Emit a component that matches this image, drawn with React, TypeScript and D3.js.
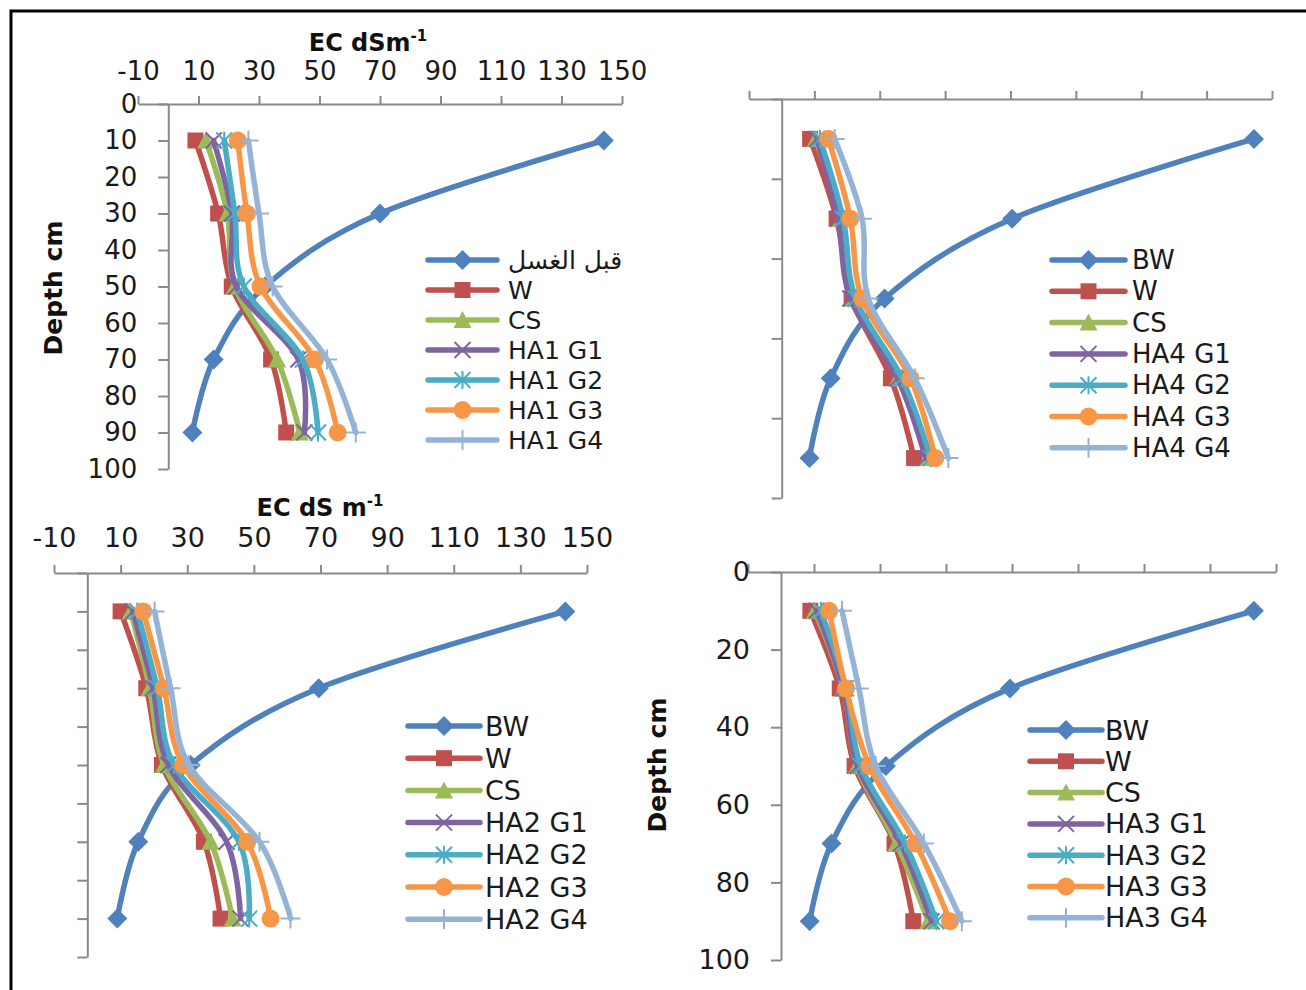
import { useEffect, useRef } from "react";
import * as d3 from "d3";

// depth of each sampling point (cm)
const depths = [10, 30, 50, 70, 90];
const ecTicks = [-10, 10, 30, 50, 70, 90, 110, 130, 150];

// EC values (dS/m) per depth; rows: BW, W, CS, G1, G2, G3, G4
const ha1Values = [
  [144, 70, 32, 15, 8],
  [9, 16.5, 21, 34, 39],
  [12.5, 19.5, 22, 36, 43.5],
  [15, 21, 22.5, 43, 45],
  [18.5, 22, 25, 44.5, 49.5],
  [23, 26, 30.5, 48.5, 56],
  [26.5, 30, 34.5, 52.5, 62],
];
const ha4Values = [
  [144.5, 70.5, 31.5, 15, 8.5],
  [8.7, 16.8, 21.4, 33.4, 40.5],
  [10.4, 18, 22, 35.5, 44.6],
  [10.8, 17.2, 21, 35.5, 44],
  [11.7, 18.8, 22.6, 36.8, 45.6],
  [14.3, 21, 24.6, 39.4, 47],
  [16.2, 24.6, 26.5, 40.7, 51],
];
const ha2Values = [
  [143.5, 69.5, 31, 15.3, 9],
  [10, 17.7, 22.4, 35, 40],
  [13, 18.7, 23, 37, 43.6],
  [13.7, 19.7, 24.3, 41.8, 46],
  [15, 21, 26, 45.5, 48.6],
  [16.8, 23, 28.7, 48, 55],
  [20.2, 25, 30.5, 51.7, 61],
];
const ha3Values = [
  [143.3, 69.4, 31.8, 15.3, 8.7],
  [8.9, 17.8, 22.3, 34.4, 40.1],
  [10.2, 18.9, 23, 35, 44.6],
  [10.8, 19, 23.2, 36.3, 45.6],
  [12.1, 19.7, 24.2, 37.6, 47.1],
  [14.6, 19.7, 26.8, 40.8, 51.2],
  [18.5, 23.6, 28.7, 43.3, 54.8],
];

const ha1Labels = ["قبل الغسل", "W", "CS", "HA1 G1", "HA1 G2", "HA1 G3", "HA1 G4"];
const ha4Labels = ["BW", "W", "CS", "HA4 G1", "HA4 G2", "HA4 G3", "HA4 G4"];
const ha2Labels = ["BW", "W", "CS", "HA2 G1", "HA2 G2", "HA2 G3", "HA2 G4"];
const ha3Labels = ["BW", "W", "CS", "HA3 G1", "HA3 G2", "HA3 G3", "HA3 G4"];

const colors = ["#4F81BD", "#C0504D", "#9BBB59", "#8064A2", "#4BACC6", "#F79646", "#95B3D7"];
const markerTypes = ["diamond", "square", "triangle", "x", "star", "circle", "plus"];

const FONT = "'DejaVu Sans', sans-serif";
const AXIS = "#8a8a8a";

interface Panel {
  values: number[][];
  labels: string[];
  xRange: [number, number];
  yRange: [number, number];
  yStep: number;
  xTickLabels: boolean;
  yTickLabels: boolean;
  xPad: number;
  tickFont: number;
  title?: { text: string; x: number; y: number };
  yTitle?: { x: number; y: number };
  legend: { x0: number; x1: number; tx: number; y0: number; dy: number; font: number };
}

const panels: Panel[] = [
  {
    values: ha1Values, labels: ha1Labels,
    xRange: [138, 622], yRange: [104, 469], yStep: 10,
    xTickLabels: true, yTickLabels: true, xPad: 16, tickFont: 26,
    title: { text: "EC dSm", x: 368, y: 51 },
    yTitle: { x: 53, y: 288 },
    legend: { x0: 428, x1: 497, tx: 508, y0: 260, dy: 30, font: 25 },
  },
  {
    values: ha4Values, labels: ha4Labels,
    xRange: [749, 1272], yRange: [99, 498], yStep: 20,
    xTickLabels: false, yTickLabels: false, xPad: 16, tickFont: 26,
    legend: { x0: 1052, x1: 1125, tx: 1132, y0: 260, dy: 31.3, font: 26 },
  },
  {
    values: ha2Values, labels: ha2Labels,
    xRange: [54, 587], yRange: [573, 957], yStep: 10,
    xTickLabels: true, yTickLabels: false, xPad: 18, tickFont: 27,
    title: { text: "EC dS m", x: 320, y: 516 },
    legend: { x0: 408, x1: 480, tx: 485, y0: 726, dy: 32.2, font: 27 },
  },
  {
    values: ha3Values, labels: ha3Labels,
    xRange: [748, 1276], yRange: [572, 960], yStep: 20,
    xTickLabels: false, yTickLabels: true, xPad: 16, tickFont: 27,
    yTitle: { x: 657, y: 765 },
    legend: { x0: 1030, x1: 1102, tx: 1105, y0: 730, dy: 31.3, font: 27 },
  },
];

function drawMarker(g: any, type: string, cx: number, cy: number, color: string) {
  const s = 8;
  if (type === "diamond") {
    g.append("path").attr("d", `M${cx},${cy - s - 2}L${cx + s + 2},${cy}L${cx},${cy + s + 2}L${cx - s - 2},${cy}Z`).attr("fill", color);
  } else if (type === "square") {
    g.append("rect").attr("x", cx - s).attr("y", cy - s).attr("width", 2 * s).attr("height", 2 * s).attr("fill", color);
  } else if (type === "triangle") {
    g.append("path").attr("d", `M${cx},${cy - s - 1}L${cx + s + 1},${cy + s}L${cx - s - 1},${cy + s}Z`).attr("fill", color);
  } else if (type === "circle") {
    g.append("circle").attr("cx", cx).attr("cy", cy).attr("r", s + 1).attr("fill", color);
  } else if (type === "x") {
    g.append("path").attr("d", `M${cx - s},${cy - s}L${cx + s},${cy + s}M${cx - s},${cy + s}L${cx + s},${cy - s}`)
      .attr("stroke", color).attr("stroke-width", 2);
  } else if (type === "star") {
    g.append("path").attr("d", `M${cx - s},${cy - s}L${cx + s},${cy + s}M${cx - s},${cy + s}L${cx + s},${cy - s}M${cx},${cy - s - 1}L${cx},${cy + s + 1}`)
      .attr("stroke", color).attr("stroke-width", 2);
  } else if (type === "plus") {
    g.append("path").attr("d", `M${cx - s - 2},${cy}L${cx + s + 2},${cy}M${cx},${cy - s - 2}L${cx},${cy + s + 2}`)
      .attr("stroke", color).attr("stroke-width", 2);
  }
}

const App = () => {
  const ref = useRef<SVGSVGElement>(null);

  useEffect(() => {
    if (!ref.current) return;
    const svg = d3.select(ref.current);
    svg.selectAll("*").remove();

    // frame (only top and left edges are visible in the original)
    svg.append("path").attr("d", "M11,990V11H1306").attr("fill", "none").attr("stroke", "#000").attr("stroke-width", 3);

    panels.forEach((p) => {
      const g = svg.append("g");
      const x = d3.scaleLinear().domain([-10, 150]).range(p.xRange);
      const y = d3.scaleLinear().domain([0, 100]).range(p.yRange);
      const yTicks = d3.range(0, 101, p.yStep);

      // x axis on top
      const xAxis = g.append("g")
        .attr("transform", `translate(0,${p.yRange[0]})`)
        .call(
          d3.axisTop(x)
            .tickValues(ecTicks)
            .tickSize(8)
            .tickSizeOuter(0)
            .tickPadding(p.xPad)
            .tickFormat((d: any) => (p.xTickLabels ? String(d) : ""))
        );

      // y axis at EC = 0
      const yAxis = g.append("g")
        .attr("transform", `translate(${x(0)},0)`)
        .call(
          d3.axisLeft(y)
            .tickValues(yTicks)
            .tickSize(10)
            .tickSizeOuter(0)
            .tickPadding(21)
            .tickFormat((d: any) => (p.yTickLabels ? String(d) : ""))
        );

      [xAxis, yAxis].forEach((a) => {
        a.select(".domain").attr("stroke", AXIS).attr("stroke-width", 2);
        a.selectAll(".tick line").attr("stroke", AXIS).attr("stroke-width", 2);
        a.selectAll(".tick text")
          .attr("fill", "#1a1a1a")
          .attr("font-family", FONT)
          .attr("font-size", p.tickFont);
      });

      if (p.title) {
        const t = g.append("text")
          .attr("x", p.title.x).attr("y", p.title.y)
          .attr("text-anchor", "middle")
          .attr("font-family", FONT).attr("font-weight", "bold").attr("font-size", 24)
          .attr("fill", "#111");
        t.append("tspan").text(p.title.text);
        t.append("tspan").attr("dy", -10).attr("font-size", 15).text("-1");
      }

      if (p.yTitle) {
        g.append("text")
          .attr("transform", `translate(${p.yTitle.x},${p.yTitle.y}) rotate(-90)`)
          .attr("text-anchor", "middle")
          .attr("dominant-baseline", "central")
          .attr("font-family", FONT).attr("font-weight", "bold").attr("font-size", 25)
          .attr("fill", "#111")
          .text("Depth cm");
      }

      const line = d3.line<number>()
        .x((v) => x(v))
        .y((_, i) => y(depths[i]))
        .curve(d3.curveCardinal.tension(0));

      p.values.forEach((vals, si) => {
        const sg = g.append("g");
        sg.append("path")
          .attr("d", line(vals))
          .attr("fill", "none")
          .attr("stroke", colors[si])
          .attr("stroke-width", 5.5)
          .attr("stroke-linejoin", "round")
          .attr("stroke-linecap", "round");
        vals.forEach((v, i) => drawMarker(sg, markerTypes[si], x(v), y(depths[i]), colors[si]));
      });

      // legend
      const L = p.legend;
      p.labels.forEach((lab, si) => {
        const ly = L.y0 + si * L.dy;
        const lg = g.append("g");
        lg.append("line")
          .attr("x1", L.x0).attr("x2", L.x1).attr("y1", ly).attr("y2", ly)
          .attr("stroke", colors[si]).attr("stroke-width", 5.5).attr("stroke-linecap", "round");
        drawMarker(lg, markerTypes[si], (L.x0 + L.x1) / 2, ly, colors[si]);
        lg.append("text")
          .attr("x", L.tx).attr("y", ly)
          .attr("dominant-baseline", "central")
          .attr("font-family", FONT)
          .attr("font-size", L.font)
          .attr("fill", "#1a1a1a")
          .text(lab);
      });
    });
  }, []);

  return (
    <svg
      ref={ref}
      width={1306}
      height={990}
      style={{ position: "absolute", left: 0, top: 0, background: "#fff" }}
    />
  );
};

export default App;
